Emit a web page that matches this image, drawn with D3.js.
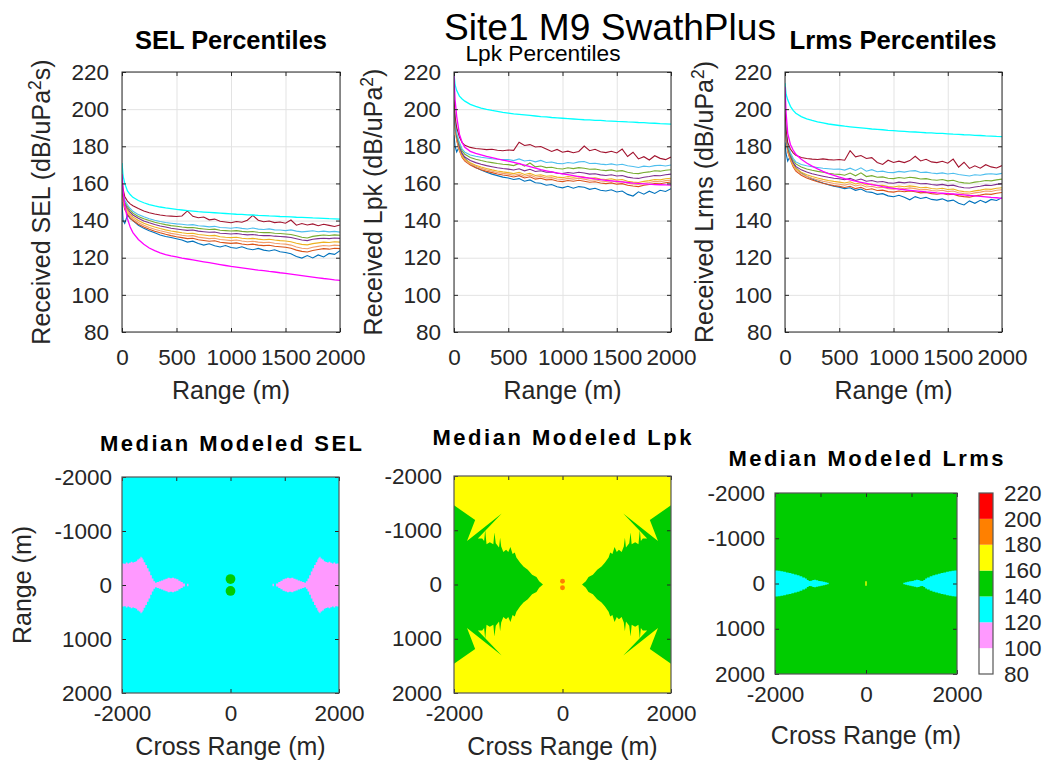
<!DOCTYPE html>
<html><head><meta charset="utf-8">
<script src="https://cdn.jsdelivr.net/npm/d3@7"></script>
<style>body{margin:0;background:#fff} svg text{font-family:"Liberation Sans",Arial,sans-serif;}</style>
</head><body><svg id="c" width="1046" height="767"></svg>
<script>
// ---------------- DATA ----------------
const rangeM = [0,10,25,50,75,100,150,200, 250,300,350,400,450,500,550,600,650, 700,750,800,850,900,950,1000,1050,1100, 1150,1200,1250,1300,1350,1400,1450,1500,1550, 1600,1650,1700,1750,1800,1850,1900,1950,2000];
const rangeTicks = [0,500,1000,1500,2000];
const levelTicks = [80,100,120,140,160,180,200,220];

// SEL percentiles (dB re uPa^2 s)
const selBlue = [150,140,138.5,143,141,140,137.5,135.8, 134.5,133.4,132.2,131.4,130.9,130.2,129.5,128.4,128.9, 127.6,126.8,127.5,126.4,125.8,126.6,125.5,125.1,125.9, 124.8,124.3,125,124.1,123.6,124.3,123.2,122.8,122.1, 120.6,119.8,121.2,119.9,121.5,120.4,122.3,121.8,123.8];
const selOrange = [156,150,146,143.5,141.5,140,138,136.5, 135.3,134.3,133.4,132.6,131.9,131.3,130.8,130.3,130.5, 129.7,129.3,128.9,129.1,128.3,128,127.7,128,127.4, 127,127.3,126.8,126.5,126.7,126.2,125.9,125.6,125.1, 124.1,123.4,123.1,123.9,124.4,124.9,124.6,125.1,124.9];
const selSalmon = [157,151,147,144.5,142.5,141,139,137.5, 136.3,135.3,134.5,133.8,133.1,132.6,132.1,131.7,131.9, 131.1,130.7,130.3,130.5,129.8,129.5,129.2,129.5,129, 128.6,128.9,128.4,128.1,128.3,127.8,127.5,127.3,126.8, 125.8,125.1,124.8,125.6,126.1,126.6,126.3,126.8,126.6];
const selYellow = [158,152,148,145.5,143.5,142,140,138.6, 137.5,136.5,135.7,135,134.4,133.9,133.4,133,133.2, 132.5,132.2,131.8,132,131.3,131,130.8,131,130.5, 130.2,130.4,130,129.7,129.9,129.5,129.2,129,128.6, 127.8,127.2,126.9,127.6,128,128.4,128.2,128.6,128.4];
const selPurple = [159,153,149,146.5,144.5,143,141.2,139.8, 138.8,137.9,137.1,136.5,135.9,135.5,135.1,134.7,134.9, 134.3,134,133.7,133.8,133.2,133,132.8,133,132.6, 132.3,132.5,132.1,131.9,132,131.6,131.4,131.2,130.9, 130.2,129.5,129.2,129.9,130.3,130.5,130.3,130.6,130.4];
const selGreen = [160,154,150,147.5,145.5,144,142.2,141, 140,139.1,138.4,137.8,137.3,136.9,136.5,136.2,136.3, 135.8,135.5,135.2,135.4,134.8,134.6,134.4,134.6,134.2, 133.9,134.1,133.7,133.5,133.6,133.2,133.0,132.8,132.5, 131.8,131.0,130.6,131.5,131.9,132.2,132.0,132.3,132.1];
const selSky = [161,155,151,148.5,146.5,145,143.2,142, 141,140.2,139.5,139,138.6,138.2,138,137.6,137.8, 137.2,137,136.6,136.9,136.3,136.1,135.9,136.3,135.8, 135.5,136,135.4,135.2,135.5,135,134.9,134.6,135, 134.3,133.9,134.2,134.5,134,134.3,133.9,134.2,133.8];
const selDarkRed = [163,157,153,150.5,149,148,146.5,145.2, 144.2,143.5,143,142.6,142.4,142.2,142.5,145.2,142.3, 141.5,141.9,140.4,140.8,139.6,139.2,138.8,139.5,139.1, 140.2,142.8,140.2,139.4,139.8,138.9,139.2,138.6,140.3, 137.5,138.4,137.6,138.2,137.2,138.0,137.4,136.8,137.6];
const selMaxModel = [171,164,160,156,154,152.5,150.8,149.6, 148.6,147.9,147.3,146.8,146.4,146.0,145.7,145.4,145.1, 144.8,144.6,144.4,144.2,144.0,143.8,143.6,143.4,143.3, 143.1,143.0,142.8,142.7,142.5,142.4,142.2,142.1,142.0, 141.8,141.7,141.6,141.4,141.3,141.2,141.0,140.9,140.8];
const selMedModel = [165,156,148,141,136.5,133.5,129.8,127.2, 125.2,123.8,122.6,121.7,121.0,120.4,119.8,119.3,118.8, 118.3,117.8,117.3,116.8,116.3,115.8,115.3,114.9,114.5, 114.1,113.7,113.3,113.0,112.6,112.3,111.9,111.6,111.2, 110.8,110.4,110.0,109.6,109.2,108.8,108.5,108.1,107.8];

// Lpk percentiles
const lpkBlue = [186,180,177,180,176,173.5,170.5,168.6, 167.2,166,165,164.2,163.4,162.9,162.1,162.6,161.2, 161.9,160.4,160.1,159,159.4,158.2,157.6,158.5,157.4, 158.3,157.9,156.8,157.4,156.3,155.9,156.6,155.4,155.9, 154.1,153.2,155.5,154.2,155.8,154.6,156.3,155.7,157.2];
const lpkOrange = [200,190,183,177.5,174,172,169.9,168.5, 167.4,166.5,165.8,165.1,164.5,164.1,163.5,164.2,162.9, 163.6,162.3,162.8,161.9,162.1,161.3,161,161.6,161.2, 161.7,161.2,160.6,160.9,160.2,159.9,160.3,159.6,159.9, 159,158.6,158.3,159,159.4,160,159.8,160.4,160.8];
const lpkSalmon = [200.5,190.5,183.5,178,174.5,172.5,170.5,169.2, 168.1,167.3,166.6,165.9,165.4,165,164.4,165.1,163.9, 164.6,163.3,163.8,162.9,163.1,162.4,162.1,162.7,162.3, 162.8,162.3,161.7,162,161.3,161,161.4,160.7,161, 160.1,159.7,159.4,160.1,160.5,161.1,160.9,161.5,161.8];
const lpkYellow = [201,191,184,178.5,175,173.1,171.1,169.8, 168.8,168,167.3,166.7,166.2,165.8,165.3,166,164.8, 165.5,164.3,164.7,163.9,164.1,163.4,163.1,163.7,163.3, 163.8,163.4,162.8,163,162.4,162.1,162.5,161.8,162.1, 161.2,160.7,160.5,161.1,161.5,162.1,161.9,162.5,162.8];
const lpkPurple = [202,192,185,179.5,176,174.2,172.4,171.2, 170.3,169.6,169,168.4,168,167.7,167.2,167.9,166.8, 167.6,166.4,166.8,166,166.2,165.5,165.3,165.9,165.5, 166,165.6,165,165.2,164.6,164.3,164.7,164,164.3, 163.4,162.9,162.7,163.3,163.7,164.3,164.1,164.7,165];
const lpkGreen = [203,193,186,181,177.5,175.7,174,173, 172.3,171.7,171.2,170.7,170.3,170.1,169.6,170.8,169.3, 171,168.9,169.4,168.5,168.7,168,167.8,168.4,168, 168.5,168.2,167.6,167.8,167.2,166.9,167.3,166.6,166.9, 166,165.5,165.3,165.9,166.2,166.8,166.6,167.1,167.4];
const lpkSky = [204,194,187,182,178.5,176.8,175.3,174.6, 174.1,173.7,173.3,173,172.8,172.9,172.3,173.2,172.1, 172.5,171.6,172.4,171.3,171.5,170.8,170.6,171.3,170.9, 171.6,171.8,170.7,170.9,170.4,170.1,170.5,169.9,170.3, 169.5,169.1,168.6,169.3,169,169.6,169.8,169.4,169.9];
const lpkDarkRed = [205,196,190,185,182,180.5,179.4,178.8, 178.5,178.2,178.4,177.9,177.6,178,177.8,182.2,180.4, 180.9,179.6,179.9,178.6,177.2,178.3,176.8,177.4,176.5, 177.2,180.1,177.6,178.4,177.1,176.6,177.3,176.4,178.5, 174.5,176.8,173.2,174.4,172.6,174.9,173.5,172.8,174.2];
const lpkMaxModel = [219,213,210,207,205.5,204.3,202.6,201.5, 200.6,199.9,199.3,198.8,198.3,197.9,197.5,197.2,196.9, 196.6,196.3,196,195.8,195.5,195.3,195.1,194.9,194.7, 194.5,194.3,194.2,194,193.9,193.7,193.6,193.4,193.3, 193.1,193,192.8,192.7,192.5,192.4,192.2,192.1,191.9];
const lpkMedModel = [218,205,196,186.5,182,179.5,177.3,176.2, 175.4,174.6,173.9,173.2,172.6,172,171.3,170.6,169.8, 169,168.2,167.4,166.8,166.2,165.7,165.2,164.7,164.2, 163.7,163.2,162.8,162.4,162.1,161.7,161.4,161.1,160.8, 160.5,160.2,160,159.8,159.6,159.4,159.3,159.2,159.1];

// Lrms percentiles
const lrmsBlue = [182,176,172,175,171,168.5,165.6,163.8, 162.4,161.2,160.2,159.3,158.5,158,157.2,157.7,156.3, 157,155.5,155.2,154.1,154.5,153.3,152.8,153.6,152.5, 151.2,152.9,151.9,152.5,151.4,151,151.7,150.5,151, 149.3,148.4,150.6,149.3,150.9,149.7,151.4,150.8,152.3];
const lrmsOrange = [195,184,177,172.5,169,166.6,164.4,162.9, 161.8,160.9,160.1,159.4,158.8,158.4,157.8,158.5,157.2, 157.9,156.6,157.1,156.2,156.4,155.6,155.3,155.9,155.5, 156,155.5,154.9,155.2,154.5,154.2,154.6,153.9,154.2, 153.3,152.9,152.6,153.3,153.7,154.3,154.1,154.7,155.1];
const lrmsSalmon = [195.5,184.5,177.5,173,169.6,167.3,165.2,163.8, 162.8,161.9,161.2,160.6,160,159.6,159.1,159.8,158.6, 159.3,158.1,158.5,157.7,157.9,157.2,156.9,157.5,157.1, 157.6,157.2,156.6,156.8,156.2,155.9,156.3,155.6,155.9, 155,154.5,154.3,154.9,155.3,155.9,155.7,156.3,156.6];
const lrmsYellow = [196,185,178,173.5,170.2,168,166,164.7, 163.7,162.9,162.2,161.6,161.1,160.7,160.2,160.9,159.7, 160.4,159.2,159.6,158.8,159,158.3,158,158.6,158.2, 158.7,158.3,157.7,157.9,157.3,157,157.4,156.7,157, 156.1,155.6,155.4,156,156.4,157,156.8,157.4,157.7];
const lrmsPurple = [197,186,179,174.5,171.3,169.2,167.3,166.1, 165.2,164.5,163.9,163.3,162.8,162.5,162,162.8,161.6, 162.4,161.2,161.6,160.8,161,160.3,160.1,160.7,160.3, 160.8,160.4,159.8,160,159.4,159.1,159.5,158.8,159.1, 158.2,157.7,157.5,158.1,158.5,159.1,158.9,159.5,159.8];
const lrmsGreen = [198,187,180,175.5,172.5,170.5,168.8,167.8, 167.1,166.5,166,165.5,165.1,164.9,164.4,165.6,164.1, 165.7,163.7,164.2,163.3,163.5,162.8,162.6,163.2,162.8, 163.3,163,162.4,162.6,162,161.7,162.1,161.4,161.7, 160.8,160.3,160.1,160.7,161,161.6,161.4,161.9,162.3];
const lrmsSky = [199,188,181,176.5,173.5,171.6,170.2,169.5, 169,168.6,168.2,167.9,167.6,167.8,167.2,168.2,167, 168.4,166.6,167.4,166.3,166.6,165.9,165.8,166.5,166.1, 166.7,166.9,165.9,166.1,165.6,165.3,165.7,165.1,165.5, 164.8,164.4,164,164.7,164.4,165,165.2,164.9,165.4];
const lrmsDarkRed = [200,189,182,178.5,176.5,175.2,174,173.4, 173.1,172.9,173.2,172.8,172.6,172.9,172.5,177.6,174.3, 175,173.4,173.9,171.3,170.2,172.5,171.3,172,171.2, 172.3,174.6,172.1,173,171.6,171.2,171.9,170.9,173.1, 168.8,171.4,168.1,169.5,168.2,170.1,168.9,168.3,169.6];
const lrmsMaxModel = [214,208,205,201.5,199.3,197.8,196,194.8, 193.9,193.2,192.6,192,191.6,191.2,190.8,190.5,190.2, 189.9,189.6,189.3,189.1,188.9,188.6,188.4,188.2,188, 187.8,187.7,187.5,187.3,187.2,187,186.9,186.7,186.5, 186.4,186.2,186.1,185.9,185.8,185.6,185.5,185.3,185.2];
const lrmsMedModel = [212,198,187,181,178,175.7,173,171, 169.3,167.8,166.5,165.3,164.3,163.4,162.6,161.9,161.2, 160.6,160,159.4,158.9,158.3,157.8,157.3,156.9,156.6, 156.3,156,155.7,155.4,155.2,154.9,154.7,154.5,154.3, 154.1,153.8,153.5,153.3,153,152.8,152.5,152.3,152];

const seriesColors = ['#0072bd','#d95319','#f29e6b','#edb120','#7e2f8e','#77ac30','#4dbeee','#a2142f','#00ffff','#ff00ff'];

// Modeled maps: [cross range (m), half width in range (m)] for the lobes, mirrored left/right and about range 0
const selVioletProfile = [[760,0],[775,25],[800,0],[840,30],[880,55],[920,80],[960,105],[1000,120],[1040,135],[1080,125],[1120,135],[1160,115],[1200,100],[1240,85],[1280,70],[1320,55],[1360,40],[1390,70],[1420,120],[1450,180],[1480,250],[1510,310],[1540,370],[1570,420],[1600,470],[1620,505],[1640,525],[1660,490],[1690,470],[1720,440],[1750,425],[1780,415],[1810,430],[1840,410],[1870,400],[1900,415],[1930,395],[1960,400],[2000,400]];
const selGreenDots = [[0,-110],[0,110]];
const lrmsCyanProfile = [[800,0],[820,15],[860,25],[900,37],[950,48],[1000,58],[1050,70],[1100,85],[1140,80],[1180,60],[1220,55],[1260,75],[1300,110],[1340,135],[1400,160],[1460,180],[1520,200],[1580,215],[1640,230],[1700,245],[1760,258],[1820,268],[1880,280],[1940,288],[2000,295]];
// Lpk green region outline, upper-right quadrant [cross range, range]
const lpkGreenQuadrant = [[360,0],[430,-60],[480,-140],[560,-180],[640,-270],[720,-330],[780,-400],[850,-500],[880,-590],[920,-560],[960,-690],[1000,-600],[1040,-640],[1090,-600],[1130,-700],[1150,-860],[1170,-680],[1230,-760],[1255,-960],[1275,-740],[1340,-780],[1400,-740],[1425,-1000],[1445,-800],[1480,-850],[1560,-850],[1120,-1310],[1760,-800],[1610,-1190],[2000,-1460]];
const lpkOrangeDots = [[0,-60],[0,60]];
const lrmsCenterMark = [[-15,-50],[15,-50],[15,50],[-15,50]];

// ---------------- DRAWING ----------------
const svg = d3.select('#c');
const TXT = '#262626';
const fmt = d3.format('d');
const color = d3.scaleThreshold().domain([100,120,140,160,180,200]).range(['#ffffff','#ff99ff','#00ffff','#00cc00','#ffff00','#ff8000','#ff0000']);
const defs = svg.append('defs');
let clipN = 0;
function clip(x0,y0,w,h){ const id='cl'+(clipN++); defs.append('clipPath').attr('id',id).append('rect').attr('x',x0).attr('y',y0).attr('width',w).attr('height',h); return `url(#${id})`; }
function styleAxis(s, fs){ s.select('.domain').remove(); s.selectAll('line').attr('stroke',TXT); s.selectAll('text').attr('fill',TXT).attr('font-size',fs).attr('font-family','"Liberation Sans", Arial, sans-serif'); }
function ylabel(x, y, pre, sup, post, fs){
  const t = svg.append('text').attr('transform',`translate(${x},${y}) rotate(-90)`).attr('text-anchor','middle').attr('fill',TXT).attr('font-size',fs);
  t.append('tspan').text(pre);
  if (sup){ t.append('tspan').attr('font-size',fs*0.7).attr('dy',-fs*0.38).text(sup); t.append('tspan').attr('dy',fs*0.38).text(post); }
}
function text(x,y,s,fs,opts={}){
  const t = svg.append('text').attr('x',x).attr('y',y).attr('text-anchor','middle').attr('fill',opts.fill||'#000').attr('font-size',fs).attr('font-weight',opts.bold?'bold':'normal').text(s);
  if (opts.len) t.attr('textLength',opts.len).attr('lengthAdjust',opts.adj||'spacingAndGlyphs');
  return t;
}

function linePanel(o){
  const Y0=72, Y1=332;
  const x = d3.scaleLinear().domain([0,2000]).range([o.x0,o.x1]);
  const y = d3.scaleLinear().domain([80,220]).range([Y1,Y0]);
  const g = svg.append('g');
  g.append('g').attr('transform',`translate(0,${Y1})`).call(d3.axisBottom(x).tickValues(rangeTicks).tickSize(-(Y1-Y0)).tickFormat(''))
    .call(s=>{s.select('.domain').remove(); s.selectAll('line').attr('stroke','#e3e3e3');});
  g.append('g').attr('transform',`translate(${o.x0},0)`).call(d3.axisLeft(y).tickValues(levelTicks).tickSize(-(o.x1-o.x0)).tickFormat(''))
    .call(s=>{s.select('.domain').remove(); s.selectAll('line').attr('stroke','#e3e3e3');});
  const lg = g.append('g').attr('clip-path', clip(o.x0,Y0,o.x1-o.x0,Y1-Y0));
  const line = d3.line().x((d,i)=>x(rangeM[i])).y(d=>y(d));
  o.series.forEach((vals,k)=>{
    lg.append('path').attr('d',line(vals)).attr('fill','none').attr('stroke',seriesColors[k]).attr('stroke-width',k>=8?1.3:1.1);
  });
  g.append('g').attr('transform',`translate(${o.x0},0)`).call(d3.axisLeft(y).tickValues(levelTicks).tickSize(-4).tickPadding(13).tickFormat(fmt)).call(s=>styleAxis(s,22.5));
  g.append('g').attr('transform',`translate(${o.x1},0)`).call(d3.axisRight(y).tickValues(levelTicks).tickSize(-4).tickFormat('')).call(s=>styleAxis(s,22.5));
  g.append('g').attr('transform',`translate(0,${Y1})`).call(d3.axisBottom(x).tickValues(rangeTicks).tickSize(-4).tickPadding(17).tickFormat(fmt)).call(s=>styleAxis(s,22.5));
  g.append('g').attr('transform',`translate(0,${Y0})`).call(d3.axisTop(x).tickValues(rangeTicks).tickSize(-4).tickFormat('')).call(s=>styleAxis(s,22.5));
  g.append('rect').attr('x',o.x0).attr('y',Y0).attr('width',o.x1-o.x0).attr('height',Y1-Y0).attr('fill','none').attr('stroke',TXT).attr('stroke-width',1);
  ylabel(o.x0-72,(Y0+Y1)/2,o.ylab,'2',o.ypost,25);
  text((o.x0+o.x1)/2, 399, 'Range (m)', 25, {fill:TXT});
}

function mapPanel(o){
  const x = d3.scaleLinear().domain([-2000,2000]).range([o.x0,o.x1]);
  const y = d3.scaleLinear().domain([-2000,2000]).range([o.y0,o.y1]);
  const g = svg.append('g');
  const cg = g.append('g').attr('clip-path', clip(o.x0,o.y0,o.x1-o.x0,o.y1-o.y0));
  cg.append('rect').attr('x',x(-2000)).attr('y',y(-2000)).attr('width',x(2000)-x(-2000)).attr('height',y(2000)-y(-2000)).attr('fill',color(o.bg));
  if (o.profile){
    [1,-1].forEach(side=>{
      const area = d3.area().x(d=>x(side*d[0])).y0(d=>y(-d[1])).y1(d=>y(d[1])).curve(d3.curveStepAfter);
      cg.append('path').attr('d',area(o.profile)).attr('fill',color(o.profileLevel));
    });
  }
  if (o.quadrant){
    const q = o.quadrant;
    const half = q.concat(q.slice().reverse().map(([a,b])=>[a,-b]));
    [1,-1].forEach(side=>{
      const ln = d3.line().x(d=>x(side*d[0])).y(d=>y(d[1])).curve(d3.curveLinearClosed);
      cg.append('path').attr('d',ln(half)).attr('fill',color(o.quadLevel));
    });
  }
  if (o.dots){
    o.dots.forEach(d=>{
      cg.append('ellipse').attr('cx',x(d[0])).attr('cy',y(d[1])).attr('rx',x(o.dotR)-x(0)).attr('ry',y(o.dotR)-y(0)).attr('fill',color(o.dotLevel));
    });
  }
  if (o.mark){
    cg.append('path').attr('d',d3.line().x(d=>x(d[0])).y(d=>y(d[1])).curve(d3.curveLinearClosed)(o.mark)).attr('fill',color(o.markLevel));
  }
  const yt=[-2000,-1000,0,1000,2000];
  const hy = d=>String(d).replace('\u2212','-');
  g.append('g').attr('transform',`translate(${o.x0},0)`).call(d3.axisLeft(y).tickValues(yt).tickSize(-4).tickPadding(o.ypad).tickFormat(hy)).call(s=>styleAxis(s,22.5));
  g.append('g').attr('transform',`translate(${o.x1},0)`).call(d3.axisRight(y).tickValues(yt).tickSize(-4).tickFormat('')).call(s=>styleAxis(s,22.5));
  g.append('g').attr('transform',`translate(0,${o.y1})`).call(d3.axisBottom(x).tickValues([-2000,0,2000]).tickSize(-4).tickPadding(12).tickFormat(hy)).call(s=>styleAxis(s,22.5));
  g.append('g').attr('transform',`translate(0,${o.y0})`).call(d3.axisTop(x).tickValues([-2000,-1000,0,1000,2000]).tickSize(-4).tickFormat('')).call(s=>styleAxis(s,22.5));
  g.append('rect').attr('x',o.x0).attr('y',o.y0).attr('width',o.x1-o.x0).attr('height',o.y1-o.y0).attr('fill','none').attr('stroke','#555').attr('stroke-width',1.2);
  text((o.x0+o.x1)/2, o.xlabY, 'Cross Range (m)', 25, {fill:TXT});
  text(o.titleX, o.titleY, o.title, 22, {bold:true, len:o.titleLen, adj:'spacing'});
}

// Title
text(610, 40, 'Site1 M9 SwathPlus', 37, {len:332});

// Top line panels
linePanel({x0:122,x1:340,series:[selBlue,selOrange,selSalmon,selYellow,selPurple,selGreen,selSky,selDarkRed,selMaxModel,selMedModel],ylab:'Received SEL (dB/uPa',ypost:'s)'});
linePanel({x0:454,x1:671,series:[lpkBlue,lpkOrange,lpkSalmon,lpkYellow,lpkPurple,lpkGreen,lpkSky,lpkDarkRed,lpkMaxModel,lpkMedModel],ylab:'Received Lpk (dB/uPa',ypost:')'});
linePanel({x0:785,x1:1002,series:[lrmsBlue,lrmsOrange,lrmsSalmon,lrmsYellow,lrmsPurple,lrmsGreen,lrmsSky,lrmsDarkRed,lrmsMaxModel,lrmsMedModel],ylab:'Received Lrms (dB/uPa',ypost:')'});
text(231, 49, 'SEL Percentiles', 25, {bold:true, len:192});
text(543, 61, 'Lpk Percentiles', 22, {len:155});
text(893, 49, 'Lrms Percentiles', 25, {bold:true, len:207});

// Bottom maps
mapPanel({x0:122,x1:339,y0:477,y1:693,bg:130,profile:selVioletProfile,profileLevel:110,dots:selGreenDots,dotR:90,dotLevel:150,ypad:10,xlabY:755,title:'Median Modeled SEL',titleX:231,titleY:451,titleLen:262});
ylabel(31,585,'Range (m)',null,null,25);
mapPanel({x0:454,x1:671,y0:476,y1:693,bg:170,quadrant:lpkGreenQuadrant,quadLevel:150,dots:lpkOrangeDots,dotR:45,dotLevel:190,ypad:12,xlabY:755,title:'Median Modeled Lpk',titleX:562,titleY:445,titleLen:259});
mapPanel({x0:775,x1:957,y0:493,y1:674,bg:150,profile:lrmsCyanProfile,profileLevel:130,mark:lrmsCenterMark,markLevel:170,ypad:10,xlabY:744,title:'Median Modeled Lrms',titleX:866,titleY:466,titleLen:275});

// Colorbar
(function(){
  const cx0=979, cx1=993;
  const y = d3.scaleLinear().domain([80,220]).range([674,493]);
  const g = svg.append('g');
  d3.pairs(levelTicks).forEach(([lo,hi])=>{
    g.append('rect').attr('x',cx0).attr('y',y(hi)).attr('width',cx1-cx0).attr('height',y(lo)-y(hi)).attr('fill',color(lo));
  });
  g.append('rect').attr('x',cx0).attr('y',493).attr('width',cx1-cx0).attr('height',181).attr('fill','none').attr('stroke','#555').attr('stroke-width',1.2);
  g.append('g').attr('transform',`translate(${cx1},0)`).call(d3.axisRight(y).tickValues(levelTicks).tickSize(0).tickPadding(11).tickFormat(fmt)).call(s=>styleAxis(s,22.5));
})();
</script></body></html>
